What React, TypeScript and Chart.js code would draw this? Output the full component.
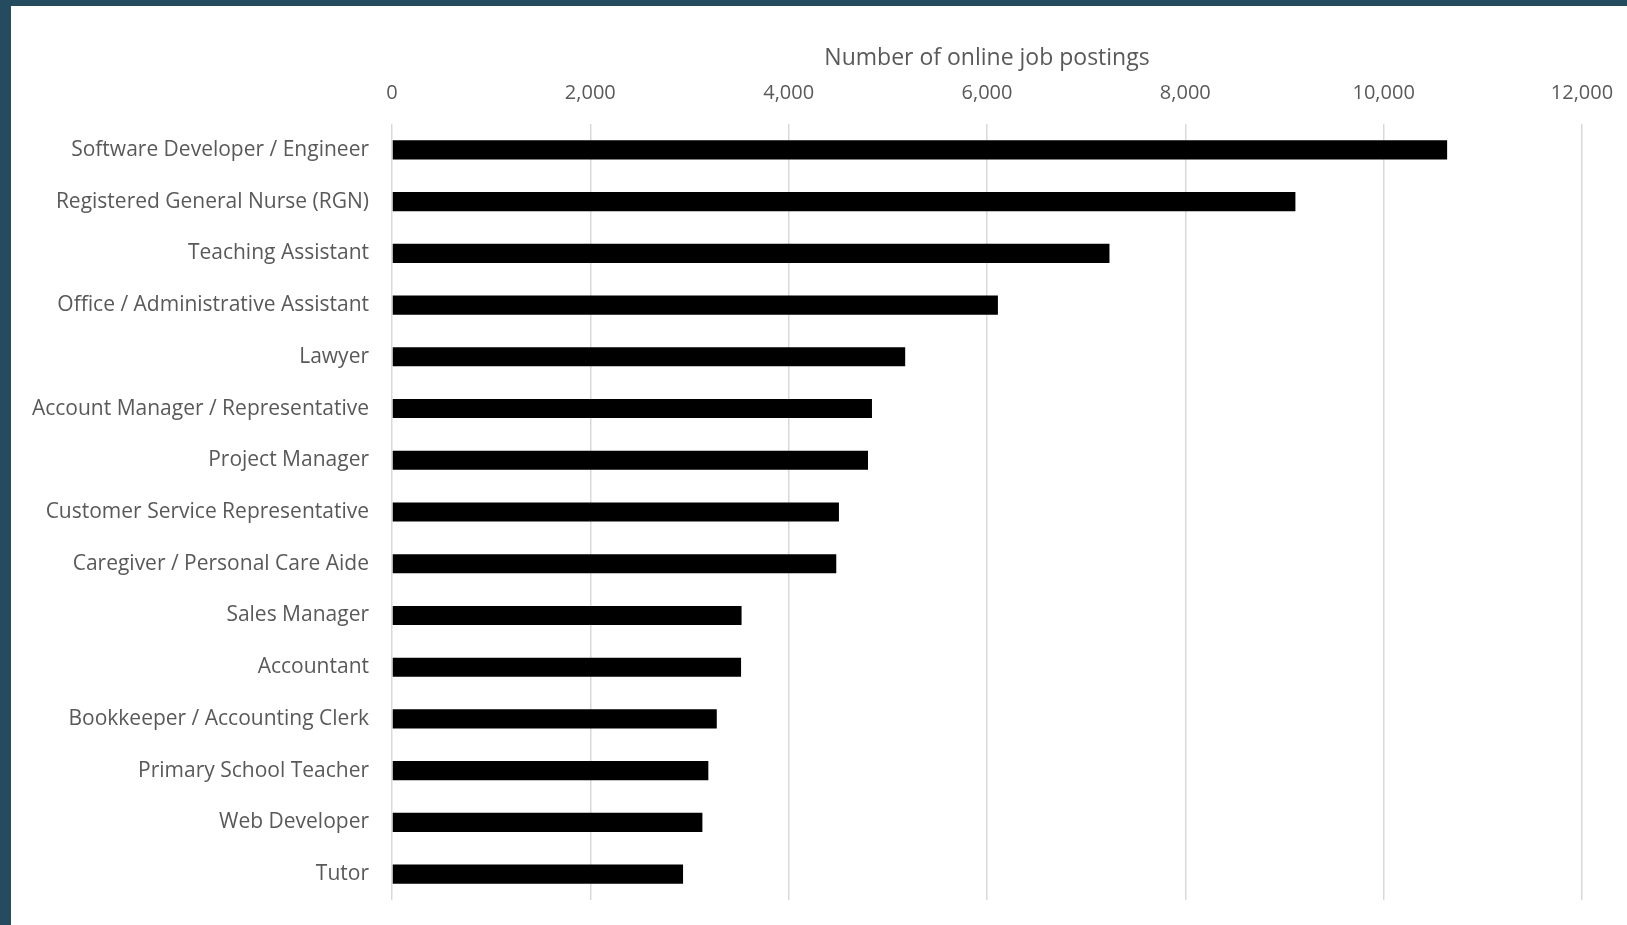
import React, { useEffect, useRef } from "react";
import { Chart, registerables } from "chart.js";

Chart.register(...registerables);

const categories: string[] = [
  "Software Developer / Engineer",
  "Registered General Nurse (RGN)",
  "Teaching Assistant",
  "Office / Administrative Assistant",
  "Lawyer",
  "Account Manager / Representative",
  "Project Manager",
  "Customer Service Representative",
  "Caregiver / Personal Care Aide",
  "Sales Manager",
  "Accountant",
  "Bookkeeper / Accounting Clerk",
  "Primary School Teacher",
  "Web Developer",
  "Tutor",
];

const postings: number[] = [
  10640, 9110, 7235, 6110, 5175, 4840, 4800, 4507, 4480, 3525, 3520, 3275, 3190, 3130, 2935,
];

const axisTitle = "Number of online job postings";
const xMin = 0;
const xMax = 12000;
const xStep = 2000;

const W = 1627;
const H = 925;
const TEXT = "#595959";
const FONT = "'Open Sans', sans-serif";

export default function App() {
  const canvasRef = useRef<HTMLCanvasElement | null>(null);

  useEffect(() => {
    document.body.style.margin = "0";
    const canvas = canvasRef.current;
    if (!canvas) return;
    const chart = new Chart(canvas, {
      type: "bar",
      data: {
        labels: categories,
        datasets: [
          {
            data: postings,
            backgroundColor: "#000000",
            borderWidth: 0,
            categoryPercentage: 1,
            barPercentage: 0.37,
          },
        ],
      },
      options: {
        indexAxis: "y",
        animation: false,
        responsive: false,
        maintainAspectRatio: false,
        layout: { padding: { left: 0, right: 45, top: 0, bottom: 25 } },
        plugins: {
          legend: { display: false },
          tooltip: { enabled: false },
        },
        scales: {
          x: {
            position: "top",
            min: xMin,
            max: xMax,
            afterFit: (scale: any) => {
              scale.height = 124;
              scale.paddingLeft = 0;
              scale.paddingRight = 0;
            },
            ticks: {
              stepSize: xStep,
              padding: 19,
              color: TEXT,
              font: { family: FONT, size: 20 },
              callback: (v: any) => Number(v).toLocaleString("en-US"),
            },
            grid: {
              color: "#d9d9d9",
              lineWidth: 1.5,
              drawTicks: false,
            },
            border: { display: false },
            title: {
              display: true,
              text: axisTitle,
              color: TEXT,
              font: { family: FONT, size: 23 },
              padding: { top: 45, bottom: 0 },
            },
          },
          y: {
            afterFit: (scale: any) => {
              scale.width = 392;
              scale.paddingTop = 0;
              scale.paddingBottom = 0;
            },
            ticks: {
              padding: 23,
              color: TEXT,
              font: { family: FONT, size: 21 },
              autoSkip: false,
            },
            grid: { display: false, drawTicks: false },
            border: { display: false },
          },
        },
      },
    });
    return () => chart.destroy();
  }, []);

  return (
    <div
      style={{
        position: "fixed",
        left: 0,
        top: 0,
        width: W,
        height: H,
        background: "#254B5F",
        overflow: "hidden",
      }}
    >
      <div
        style={{
          position: "absolute",
          left: 11,
          top: 6,
          width: W - 11,
          height: H - 6,
          background: "#ffffff",
        }}
      />
      <canvas
        ref={canvasRef}
        width={W}
        height={H}
        style={{ position: "absolute", left: 0, top: 0, width: W, height: H }}
      />
    </div>
  );
}
